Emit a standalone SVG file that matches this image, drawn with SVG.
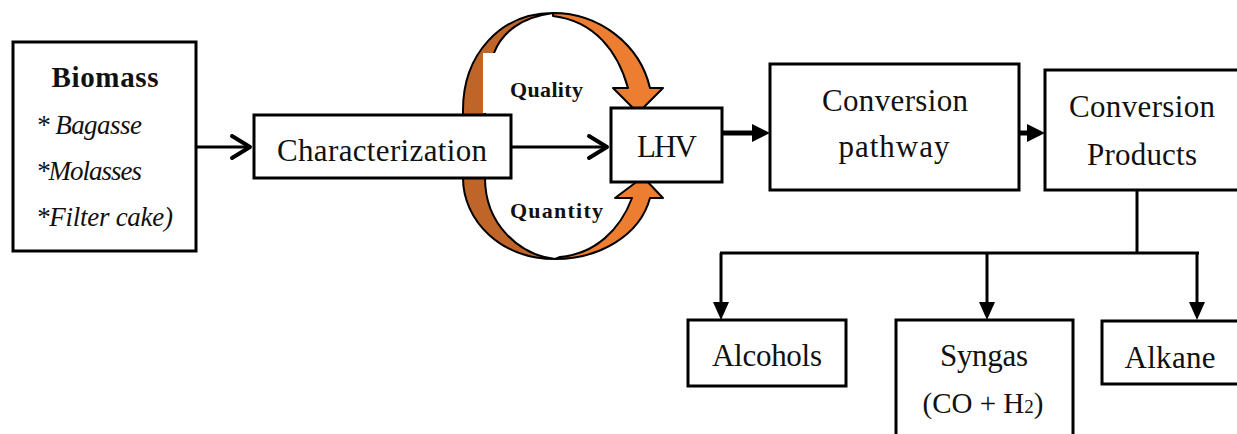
<svg xmlns="http://www.w3.org/2000/svg" width="1237" height="434" viewBox="0 0 1237 434">
<style>
.box{fill:#fff;stroke:#000;stroke-width:3}
.t{font-family:"Liberation Serif","Times New Roman",serif;font-size:31px;fill:#111}
.bio{font-family:"Liberation Serif","Times New Roman",serif;font-size:27px;fill:#111}
.lbl{font-family:"Liberation Serif","Times New Roman",serif;font-size:22px;font-weight:bold;fill:#111}
.ln{stroke:#000;fill:none}
.dark{fill:#C0652A;stroke:#000;stroke-width:2;stroke-linejoin:round}
.light{fill:#ED7D31;stroke:#000;stroke-width:2;stroke-linejoin:round}
.head{fill:#000}
</style>
<rect width="1237" height="434" fill="#fff"/>
<g id="curved-arrows">
<path class="dark" d="M463 150 L463 110 C463 55 500 13 553 13 C522 17 502 32 494 53 C487 70 485 90 485 110 L485 150 Z"/>
<path class="light" d="M553 13 C600 13 640 45 650 88 L663 88 L638 113 L613 88 L628 88 C618 52 595 21 553 16 Z"/>
<path class="dark" d="M463 150 L463 178 C463 220 500 259 555 259 C520 255 485 225 485 178 L485 150 Z"/>
<path class="light" d="M555 259 C600 259 640 235 650 198 L663 198 L643 177 L615 198 L632 198 C620 230 595 254 560 257 Z"/>
<rect x="483" y="53" width="128" height="60" fill="#fff"/>
<text class="lbl" x="510" y="97" textLength="73">Quality</text>
<text class="lbl" x="510" y="218" textLength="93">Quantity</text>
</g>
<g id="connectors">
<line class="ln" x1="197" y1="147" x2="250" y2="147" stroke-width="3"/>
<polyline class="ln" points="232,136 250,147 232,158" stroke-width="4" stroke-linecap="round" stroke-linejoin="round"/>
<line class="ln" x1="511" y1="147" x2="607" y2="147" stroke-width="3"/>
<polyline class="ln" points="589,136 607,147 589,158" stroke-width="4" stroke-linecap="round" stroke-linejoin="round"/>
<line class="ln" x1="722" y1="133" x2="755" y2="133" stroke-width="5"/>
<polygon class="head" points="752,124 770,133 752,142"/>
<line class="ln" x1="1019" y1="133" x2="1030" y2="133" stroke-width="5"/>
<polygon class="head" points="1027,124 1045,133 1027,142"/>
<line class="ln" x1="1137" y1="190" x2="1137" y2="253" stroke-width="3"/>
<line class="ln" x1="720" y1="253" x2="1199" y2="253" stroke-width="3"/>
<line class="ln" x1="721" y1="253" x2="721" y2="305" stroke-width="3"/>
<polygon class="head" points="713,302 729,302 721,320"/>
<line class="ln" x1="987" y1="253" x2="987" y2="305" stroke-width="3"/>
<polygon class="head" points="979,302 995,302 987,320"/>
<line class="ln" x1="1197" y1="253" x2="1197" y2="305" stroke-width="3"/>
<polygon class="head" points="1189,302 1205,302 1197,320"/>
</g>
<g id="biomass">
<rect class="box" x="13" y="42" width="183" height="209"/>
<text class="bio" x="105" y="87" text-anchor="middle" style="font-weight:bold;font-size:29px" textLength="107">Biomass</text>
<text class="bio" x="36" y="134" font-style="italic" textLength="106">* Bagasse</text>
<text class="bio" x="36" y="180" font-style="italic" textLength="106">*Molasses</text>
<text class="bio" x="36" y="226" font-style="italic" textLength="137">*Filter cake)</text>
</g>
<g id="characterization">
<rect class="box" x="254" y="115" width="257" height="63"/>
<text class="t" x="382" y="161" text-anchor="middle" textLength="210">Characterization</text>
</g>
<g id="lhv">
<rect class="box" x="611" y="108" width="111" height="74"/>
<text class="t" x="667" y="157" text-anchor="middle" textLength="60">LHV</text>
</g>
<g id="conversion-pathway">
<rect class="box" x="770" y="64" width="249" height="126"/>
<text class="t" x="895" y="111" text-anchor="middle" textLength="146">Conversion</text>
<text class="t" x="894" y="157" text-anchor="middle" textLength="111">pathway</text>
</g>
<g id="conversion-products">
<rect class="box" x="1045" y="70" width="200" height="120"/>
<text class="t" x="1142" y="117" text-anchor="middle" textLength="146">Conversion</text>
<text class="t" x="1142" y="165" text-anchor="middle" textLength="110">Products</text>
</g>
<g id="alcohols">
<rect class="box" x="688" y="320" width="158" height="66"/>
<text class="t" x="767" y="366" text-anchor="middle" textLength="110">Alcohols</text>
</g>
<g id="syngas">
<rect class="box" x="896" y="320" width="177" height="130"/>
<text class="t" x="984" y="366" text-anchor="middle" textLength="88">Syngas</text>
<text class="t" x="983" y="413" text-anchor="middle" style="font-size:29px">(CO + H<tspan style="font-size:19px">2</tspan>)</text>
</g>
<g id="alkane">
<rect class="box" x="1102" y="321" width="150" height="63"/>
<text class="t" x="1170" y="368" text-anchor="middle" textLength="91">Alkane</text>
</g>
</svg>
